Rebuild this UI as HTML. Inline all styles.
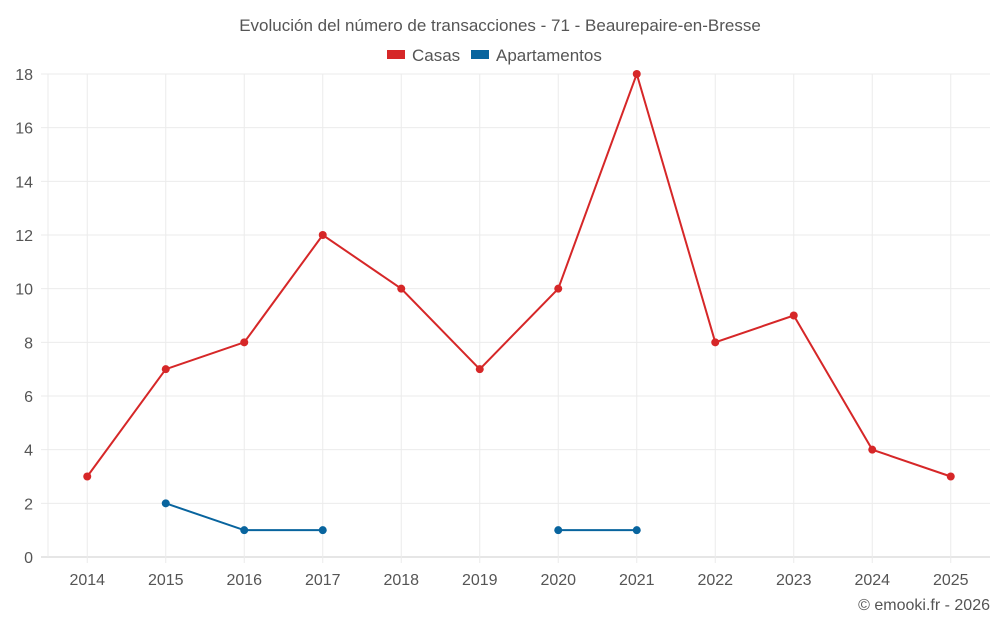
<!DOCTYPE html>
<html><head><meta charset="utf-8">
<style>
body{margin:0;background:#fff;font-family:"Liberation Sans",sans-serif;}
svg text{font-family:"Liberation Sans",sans-serif;fill:#555;}
</style></head>
<body>
<svg id="chart" width="1000" height="625">
<text x="500" y="31" text-anchor="middle" font-size="17">Evolución del número de transacciones - 71 - Beaurepaire-en-Bresse</text>
<g>
<rect x="387" y="50" width="18" height="9" fill="#d62728"/>
<text x="412" y="61" font-size="17">Casas</text>
<rect x="471" y="50" width="18" height="9" fill="#08649e"/>
<text x="496" y="61" font-size="17">Apartamentos</text>
</g>
<g id="grid"></g><g id="axes"></g><g id="series"></g>
<text x="990" y="610" text-anchor="end" font-size="16">© emooki.fr - 2026</text>
</svg>
<script>
const years=[2014,2015,2016,2017,2018,2019,2020,2021,2022,2023,2024,2025];
const casas=[3,7,8,12,10,7,10,18,8,9,4,3];
const apartamentos=[null,2,1,1,null,null,1,1,null,null,null,null];
const yTicks=[0,2,4,6,8,10,12,14,16,18];
const NS="http://www.w3.org/2000/svg";
const L=48,R=990,T=74,B=557,yMax=18;
const band=(R-L)/years.length;
const xS=i=>L+band*(i+0.5);
const yS=v=>B-(v/yMax)*(B-T);
function mk(tag,attrs,parent){const e=document.createElementNS(NS,tag);for(const k in attrs)e.setAttribute(k,attrs[k]);parent.appendChild(e);return e;}
const grid=document.getElementById('grid'),axes=document.getElementById('axes'),ser=document.getElementById('series');
yTicks.forEach(t=>{
 const l=mk('line',{x1:41,x2:R,y1:yS(t),y2:yS(t),stroke:t===0?'#ccc':'#ebebeb','stroke-width':1},grid);
 
 
 const tx=mk('text',{x:33,y:yS(t)+6,'text-anchor':'end','font-size':16},axes);
 tx.textContent=t;
 
 
});
const la=mk('line',{x1:L,x2:L,y1:T,y2:B,stroke:'#ebebeb'},grid);


years.forEach((y,i)=>{
 const l=mk('line',{x1:xS(i),x2:xS(i),y1:T,y2:B+6,stroke:'#ebebeb'},grid);
 
 
 const tx=mk('text',{x:xS(i),y:585,'text-anchor':'middle','font-size':16},axes);
 tx.textContent=y;
 
 
});
function drawSeries(data,color,name){
 let segs=[],cur=[];
 data.forEach((v,i)=>{if(v===null){if(cur.length)segs.push(cur);cur=[];}else cur.push([xS(i),yS(v)]);});
 if(cur.length)segs.push(cur);
 segs.forEach(s=>{
  const p=mk('polyline',{points:s.map(q=>q.join(',')).join(' '),fill:'none',stroke:color,'stroke-width':2},ser);
  
  
 });
 data.forEach((v,i)=>{if(v===null)return;
  const c=mk('circle',{cx:xS(i),cy:yS(v),r:4,fill:color},ser);
  
  
 });
}
drawSeries(casas,'#d62728','casas');
drawSeries(apartamentos,'#08649e','apartamentos');
</script>
</body></html>
